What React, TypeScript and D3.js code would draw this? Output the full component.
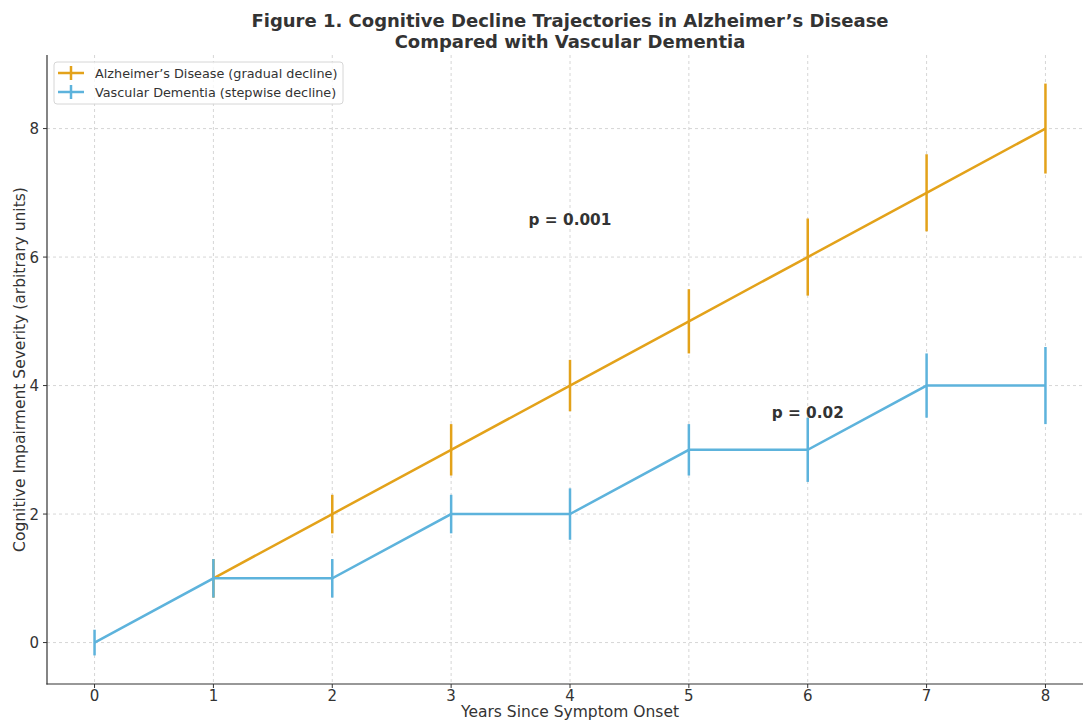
import React, { useEffect, useRef } from 'react';
import * as d3 from 'd3';

const adYears = [1, 2, 3, 4, 5, 6, 7, 8];
const adSeverity = [1, 2, 3, 4, 5, 6, 7, 8];
const adError = [0.3, 0.3, 0.4, 0.4, 0.5, 0.6, 0.6, 0.7];

const vdYears = [0, 1, 2, 3, 4, 5, 6, 7, 8];
const vdSeverity = [0, 1, 1, 2, 2, 3, 3, 4, 4];
const vdError = [0.2, 0.3, 0.3, 0.3, 0.4, 0.4, 0.5, 0.5, 0.6];

const xTicks = [0, 1, 2, 3, 4, 5, 6, 7, 8];
const yTicks = [0, 2, 4, 6, 8];

const annotations = [
  { x: 4, y: 6.5, text: 'p = 0.001' },
  { x: 6, y: 3.5, text: 'p = 0.02' },
];

const AD_COLOR = '#E3A21A';
const VD_COLOR = '#5DB3DC';

const W = 1083;
const H = 722;
const margin = { left: 47, right: -10, top: 55, bottom: 38 };

const App: React.FC = () => {
  const svgRef = useRef<SVGSVGElement>(null);

  useEffect(() => {
    if (!svgRef.current) return;
    const svg = d3.select(svgRef.current);
    svg.selectAll('*').remove();

    const font = '"DejaVu Sans", sans-serif';
    const x = d3.scaleLinear().domain([-0.4, 8.4]).range([margin.left, W - margin.right]);
    const y = d3.scaleLinear().domain([-0.645, 9.145]).range([H - margin.bottom, margin.top]);

    // grid
    const grid = svg.append('g');
    xTicks.forEach(t => {
      grid.append('line')
        .attr('x1', x(t)).attr('x2', x(t))
        .attr('y1', y.range()[1]).attr('y2', y.range()[0])
        .attr('stroke', '#cccccc').attr('stroke-width', 0.8).attr('stroke-dasharray', '3,3');
    });
    yTicks.forEach(t => {
      grid.append('line')
        .attr('x1', x.range()[0]).attr('x2', x.range()[1])
        .attr('y1', y(t)).attr('y2', y(t))
        .attr('stroke', '#cccccc').attr('stroke-width', 0.8).attr('stroke-dasharray', '3,3');
    });

    const line = d3.line<[number, number]>().x(d => x(d[0])).y(d => y(d[1]));

    const drawSeries = (xs: number[], ys: number[], es: number[], color: string) => {
      const g = svg.append('g');
      g.append('path')
        .datum(xs.map((v, i) => [v, ys[i]] as [number, number]))
        .attr('fill', 'none').attr('stroke', color).attr('stroke-width', 2.5)
        .attr('d', line);
      xs.forEach((v, i) => {
        g.append('line')
          .attr('x1', x(v)).attr('x2', x(v))
          .attr('y1', y(ys[i] - es[i])).attr('y2', y(ys[i] + es[i]))
          .attr('stroke', color).attr('stroke-width', 2.5);
      });
    };
    drawSeries(adYears, adSeverity, adError, AD_COLOR);
    drawSeries(vdYears, vdSeverity, vdError, VD_COLOR);

    // spines
    svg.append('line')
      .attr('x1', x.range()[0]).attr('x2', x.range()[0])
      .attr('y1', y.range()[1]).attr('y2', y.range()[0] + 0.6)
      .attr('stroke', '#333').attr('stroke-width', 1.2);
    svg.append('line')
      .attr('x1', x.range()[0] - 0.6).attr('x2', x.range()[1])
      .attr('y1', y.range()[0]).attr('y2', y.range()[0])
      .attr('stroke', '#333').attr('stroke-width', 1.2);

    // ticks
    xTicks.forEach(t => {
      svg.append('line').attr('x1', x(t)).attr('x2', x(t))
        .attr('y1', y.range()[0]).attr('y2', y.range()[0] + 4)
        .attr('stroke', '#333').attr('stroke-width', 1);
      svg.append('text').attr('x', x(t)).attr('y', y.range()[0] + 17)
        .attr('text-anchor', 'middle').attr('font-family', font).attr('font-size', 15)
        .attr('fill', '#333').text(t);
    });
    yTicks.forEach(t => {
      svg.append('line').attr('x1', x.range()[0] - 4).attr('x2', x.range()[0])
        .attr('y1', y(t)).attr('y2', y(t))
        .attr('stroke', '#333').attr('stroke-width', 1);
      svg.append('text').attr('x', x.range()[0] - 8).attr('y', y(t) + 5.5)
        .attr('text-anchor', 'end').attr('font-family', font).attr('font-size', 15)
        .attr('fill', '#333').text(t);
    });

    // axis labels
    svg.append('text').attr('x', 570).attr('y', 717)
      .attr('text-anchor', 'middle').attr('font-family', font).attr('font-size', 15.5)
      .attr('fill', '#333').text('Years Since Symptom Onset');
    svg.append('text')
      .attr('transform', `translate(25, ${(y.range()[0] + y.range()[1]) / 2}) rotate(-90)`)
      .attr('text-anchor', 'middle').attr('font-family', font).attr('font-size', 15.5)
      .attr('fill', '#333').text('Cognitive Impairment Severity (arbitrary units)');

    // title
    const title = svg.append('text').attr('text-anchor', 'middle').attr('font-family', font)
      .attr('font-size', 18).attr('font-weight', 'bold').attr('fill', '#333');
    title.append('tspan').attr('x', 570).attr('y', 27)
      .text('Figure 1. Cognitive Decline Trajectories in Alzheimer\u2019s Disease');
    title.append('tspan').attr('x', 570).attr('y', 48)
      .text('Compared with Vascular Dementia');

    // annotations
    annotations.forEach(a => {
      svg.append('text').attr('x', x(a.x)).attr('y', y(a.y))
        .attr('text-anchor', 'middle').attr('font-family', font).attr('font-size', 15.3)
        .attr('font-weight', 'bold').attr('fill', '#333').text(a.text);
    });

    // legend
    const lg = svg.append('g').attr('transform', 'translate(54, 62)');
    lg.append('rect').attr('width', 289).attr('height', 42).attr('rx', 3)
      .attr('fill', 'white').attr('fill-opacity', 0.8).attr('stroke', '#d6d6d6');
    [
      { label: 'Alzheimer\u2019s Disease (gradual decline)', color: AD_COLOR },
      { label: 'Vascular Dementia (stepwise decline)', color: VD_COLOR },
    ].forEach((item, i) => {
      const cy = 11 + i * 19;
      lg.append('line').attr('x1', 4).attr('x2', 30).attr('y1', cy).attr('y2', cy)
        .attr('stroke', item.color).attr('stroke-width', 2.5);
      lg.append('line').attr('x1', 17).attr('x2', 17).attr('y1', cy - 7).attr('y2', cy + 7)
        .attr('stroke', item.color).attr('stroke-width', 2.5);
      lg.append('text').attr('x', 41).attr('y', cy + 4.5).attr('font-family', font)
        .attr('font-size', 12.8).attr('fill', '#333').text(item.label);
    });
  }, []);

  return (
    <div style={{ position: 'absolute', left: 0, top: 0, width: W, height: H, background: 'white' }}>
      <svg ref={svgRef} width={W} height={H} style={{ display: 'block' }} />
    </div>
  );
};

export default App;
